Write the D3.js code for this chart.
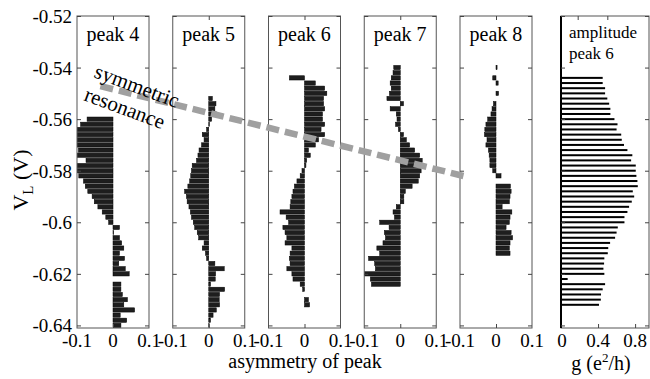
<!DOCTYPE html>
<html>
<head>
<meta charset="utf-8">
<script src="https://cdn.jsdelivr.net/npm/d3@7"></script>
</head>
<body style="margin:0">
<script>
// gate voltage sweep (V), one row per bar
const vl = [
  -0.540, -0.542, -0.544, -0.546, -0.548, -0.550, -0.552, -0.554, -0.556, -0.558,
  -0.560, -0.562, -0.564, -0.566, -0.568, -0.570, -0.572, -0.574, -0.576, -0.578,
  -0.580, -0.582, -0.584, -0.586, -0.588, -0.590, -0.592, -0.594, -0.596, -0.598,
  -0.600, -0.602, -0.604, -0.606, -0.608, -0.610, -0.612, -0.614, -0.616, -0.618,
  -0.620, -0.622, -0.624, -0.626, -0.628, -0.630, -0.632, -0.634, -0.636, -0.638,
  -0.640
];

const peakNames = ['peak 4', 'peak 5', 'peak 6', 'peak 7', 'peak 8'];

// asymmetry of each peak vs VL (null = no data)
const peak4 = [
  null, null, null, null, null, null, null, null, null, null,
  -0.072, -0.09, -0.12, -0.12, -0.12, -0.12, -0.096, -0.12, -0.075, -0.12,
  -0.105, -0.095, -0.082, -0.077, -0.07, -0.058, -0.052, -0.042, -0.03, -0.02,
  -0.012, 0.018, 0.002, 0.018, 0.024, 0.03, 0.018, 0.032, 0.016, 0.034,
  0.045, 0, 0.022, 0.022, 0.026, 0.04, 0.03, 0.06, 0.02, 0.038,
  0.022
];
const peak5 = [
  0, 0, 0, 0, 0, 0, 0.01, 0.02, 0.017, 0.022,
  0.008, 0.002, -0.006, -0.018, -0.013, -0.02, -0.027, -0.03, -0.034, -0.046,
  -0.048, -0.05, -0.053, -0.058, -0.067, -0.062, -0.06, -0.055, -0.051, -0.048,
  -0.043, -0.039, -0.032, -0.028, -0.013, -0.018, -0.009, -0.006, 0.017, 0.043,
  0.019, 0.018, 0.005, 0.044, 0.03, 0.029, 0.03, 0.021, 0.012, 0.005,
  0.001
];
const peak6 = [
  null, null, -0.042, 0.03, 0.056, 0.062, 0.053, 0.053, 0.056, 0.05,
  0.05, 0.056, 0.046, 0.056, 0.039, 0.03, 0.011, 0.016, 0.006, 0.004,
  -0.007, -0.012, -0.021, -0.028, -0.032, -0.035, -0.038, -0.04, -0.068, -0.051,
  -0.044, -0.06, -0.054, -0.049, -0.054, -0.035, -0.04, -0.042, -0.04, -0.049,
  -0.035, -0.032, -0.012, -0.005, 0, 0.011, 0.014, 0, 0, 0,
  0
];
const peak7 = [
  -0.018, -0.02, -0.025, -0.028, -0.025, -0.03, -0.037, 0.009, -0.028, -0.011,
  -0.009, -0.013, -0.005, 0.009, 0.017, 0.026, 0.04, 0.054, 0.061, 0.065,
  0.058, 0.054, 0.05, 0.033, 0.014, 0.01, 0.01, -0.011, -0.02, -0.016,
  -0.057, -0.031, -0.044, -0.041, -0.048, -0.065, -0.057, -0.088, -0.071, -0.069,
  -0.102, -0.083, -0.08, 0, 0, 0, 0, 0, 0, 0,
  0
];
const peak8 = [
  0.003, 0, -0.009, 0.006, 0, 0.007, 0, -0.007, -0.011, -0.014,
  -0.023, -0.028, -0.031, -0.032, -0.025, -0.028, -0.021, -0.019, -0.017, -0.017,
  -0.009, 0.014, 0, 0.04, 0.042, 0.039, 0.037, 0.017, 0.044, 0.039,
  0.037, 0.028, 0.042, 0.046, 0.039, 0.037, 0.039, 0, 0, 0,
  0, 0, 0, 0, 0, 0, 0, 0, 0, 0,
  0
];
// amplitude of peak 6, g in e^2/h
const amp6 = [
  null, null, 0.45, 0.45, 0.476, 0.476, 0.50, 0.52, 0.533, 0.533,
  0.577, 0.61, 0.60, 0.65, 0.656, 0.68, 0.717, 0.77, 0.757, 0.807,
  0.807, 0.814, 0.825, 0.829, 0.775, 0.79, 0.764, 0.735, 0.717, 0.685,
  0.685, 0.613, 0.60, 0.584, 0.53, 0.51, 0.505, 0.468, 0.465, 0.458,
  0.468, 0.072, 0.476, 0.45, 0.432, 0.43, 0.41, null, null, null,
  null
];

const vlTicks = [-0.52, -0.54, -0.56, -0.58, -0.6, -0.62, -0.64];
const asymTicks = [-0.1, 0, 0.1];
const ampTicks = [0, 0.4, 0.8];
const ampTopTicks = [0.18, 0.5];

const peaks = [peak4, peak5, peak6, peak7, peak8];

const width = 650, height = 379;
const svg = d3.select('body').append('svg')
  .attr('width', width)
  .attr('height', height);

const y = d3.scaleLinear().domain([-0.52, -0.641]).range([16, 328]);
const panelLeft = d3.scaleLinear().domain([0, 4]).range([77, 460]);
const panelW = 72;
const yTop = y.range()[0], yBottom = y.range()[1];
const rowH = Math.abs(y(-0.002) - y(0)) - 0.9;
const fmt = d => d === 0 ? '0' : String(d);

// every label goes through here so the serif face is set on the element itself
function label(parent, size) {
  return parent.append('text')
    .attr('font-family', 'Liberation Serif')
    .attr('font-size', size)
    .attr('fill', '#000');
}

// panels
peaks.forEach((series, i) => {
  const x0 = panelLeft(i);
  const x = d3.scaleLinear().domain([-0.1, 0.1]).range([x0, x0 + panelW]);
  const g = svg.append('g');

  g.append('clipPath').attr('id', 'clip' + i)
    .append('rect')
    .attr('x', x0).attr('y', yTop)
    .attr('width', panelW).attr('height', yBottom - yTop);

  const rows = vl.map((v, j) => ({ v: v, a: series[j] })).filter(d => d.a !== null);

  g.append('g').attr('clip-path', 'url(#clip' + i + ')')
    .selectAll('rect')
    .data(rows)
    .enter()
    .append('rect')
    .attr('x', d => Math.min(x(0), x(d.a)))
    .attr('y', d => y(d.v) - rowH / 2)
    .attr('width', d => Math.abs(x(d.a) - x(0)))
    .attr('height', rowH)
    .attr('fill', '#1e1e1e')
    .attr('stroke', '#000')
    .attr('stroke-width', 0.5);

  // frame
  g.append('rect')
    .attr('x', x0).attr('y', yTop)
    .attr('width', panelW).attr('height', yBottom - yTop)
    .attr('fill', 'none')
    .attr('stroke', '#555')
    .attr('stroke-width', 1);

  // inward ticks
  g.append('g').attr('transform', 'translate(' + x0 + ',0)')
    .call(d3.axisRight(y).tickValues(vlTicks).tickSize(4).tickFormat(''))
    .call(a => a.select('.domain').remove());
  g.append('g').attr('transform', 'translate(' + (x0 + panelW) + ',0)')
    .call(d3.axisLeft(y).tickValues(vlTicks).tickSize(4).tickFormat(''))
    .call(a => a.select('.domain').remove());
  g.append('g').attr('transform', 'translate(0,' + yBottom + ')')
    .call(d3.axisTop(x).tickValues([0]).tickSize(4).tickFormat(''))
    .call(a => a.select('.domain').remove());
  g.append('g').attr('transform', 'translate(0,' + yTop + ')')
    .call(d3.axisBottom(x).tickValues([0]).tickSize(4).tickFormat(''))
    .call(a => a.select('.domain').remove());
  g.selectAll('.tick line').attr('stroke', '#444');
  g.selectAll('.tick text').remove();

  // bottom labels
  asymTicks.forEach(t => {
    label(g, 19)
      .attr('x', x(t))
      .attr('y', 347)
      .attr('text-anchor', 'middle')
      .text(fmt(t));
  });

  label(g, 20)
    .attr('x', x(0))
    .attr('y', 41)
    .attr('text-anchor', 'middle')
    .text(peakNames[i]);
});

// amplitude panel
const xa = d3.scaleLinear().domain([0, 0.95]).range([561, 649]);
const ga = svg.append('g');
const ampRows = vl.map((v, j) => ({ v: v, g: amp6[j] })).filter(d => d.g !== null);

ga.selectAll('rect.amp')
  .data(ampRows)
  .enter()
  .append('rect')
  .attr('class', 'amp')
  .attr('x', xa(0))
  .attr('y', d => y(d.v) - 1)
  .attr('width', d => xa(d.g) - xa(0))
  .attr('height', 2)
  .attr('fill', '#000');

ga.append('rect')
  .attr('x', xa(0)).attr('y', yTop)
  .attr('width', xa.range()[1] - xa(0)).attr('height', yBottom - yTop)
  .attr('fill', 'none')
  .attr('stroke', '#555');
ga.append('line')
  .attr('x1', xa(0)).attr('x2', xa(0))
  .attr('y1', yTop).attr('y2', yBottom)
  .attr('stroke', '#000')
  .attr('stroke-width', 2);

ga.append('g').attr('transform', 'translate(' + xa(0) + ',0)')
  .call(d3.axisRight(y).tickValues(vlTicks).tickSize(4).tickFormat(''))
  .call(a => a.select('.domain').remove());
ga.append('g').attr('transform', 'translate(' + xa.range()[1] + ',0)')
  .call(d3.axisLeft(y).tickValues(vlTicks).tickSize(4).tickFormat(''))
  .call(a => a.select('.domain').remove());
ga.append('g').attr('transform', 'translate(0,' + yBottom + ')')
  .call(d3.axisTop(xa).tickValues(ampTicks.slice(1)).tickSize(4).tickFormat(''))
  .call(a => a.select('.domain').remove());
ga.append('g').attr('transform', 'translate(0,' + yTop + ')')
  .call(d3.axisBottom(xa).tickValues(ampTopTicks).tickSize(4).tickFormat(''))
  .call(a => a.select('.domain').remove());
ga.selectAll('.tick line').attr('stroke', '#444');
ga.selectAll('.tick text').remove();

ampTicks.forEach(t => {
  label(ga, 19)
    .attr('x', xa(t) + (t === 0 ? 1 : 0))
    .attr('y', 347)
    .attr('text-anchor', 'middle')
    .text(fmt(t));
});

label(ga, 17).attr('x', 569).attr('y', 38).text('amplitude');
label(ga, 17).attr('x', 569).attr('y', 59).text('peak 6');

// y axis labels
vlTicks.forEach(t => {
  label(svg, 19)
    .attr('x', 72)
    .attr('y', y(t) + 7)
    .attr('text-anchor', 'end')
    .text(String(t));
});

const ylab = label(svg, 22)
  .attr('transform', 'translate(28,180) rotate(-90)')
  .attr('text-anchor', 'middle');
ylab.append('tspan').text('V');
ylab.append('tspan').attr('dy', 5).attr('font-size', 15).text('L');
ylab.append('tspan').attr('dy', -5).text(' (V)');

// axis titles
label(svg, 20)
  .attr('x', 305).attr('y', 368)
  .attr('text-anchor', 'middle')
  .text('asymmetry of peak');

const glab = label(svg, 20)
  .attr('x', 601).attr('y', 370)
  .attr('text-anchor', 'middle');
glab.append('tspan').text('g (e');
glab.append('tspan').attr('dy', -8).attr('font-size', 13).text('2');
glab.append('tspan').attr('dy', 8).text('/h)');

// symmetric resonance guide
const xStart = d3.scaleLinear().domain([-0.1, 0.1]).range([panelLeft(0), panelLeft(0) + panelW]);
const xEnd = d3.scaleLinear().domain([-0.1, 0.1]).range([panelLeft(4), panelLeft(4) + panelW]);
svg.append('line')
  .attr('x1', xStart(-0.035)).attr('y1', y(-0.5472))
  .attr('x2', xEnd(-0.083)).attr('y2', y(-0.5823))
  .attr('stroke', '#a0a0a0')
  .attr('stroke-width', 6.5)
  .attr('stroke-dasharray', '13,6');

label(svg, 21)
  .attr('transform', 'translate(93,77) rotate(20.4)')
  .text('symmetric');
label(svg, 21)
  .attr('transform', 'translate(83,100) rotate(20.4)')
  .text('resonance');
</script>
</body>
</html>
